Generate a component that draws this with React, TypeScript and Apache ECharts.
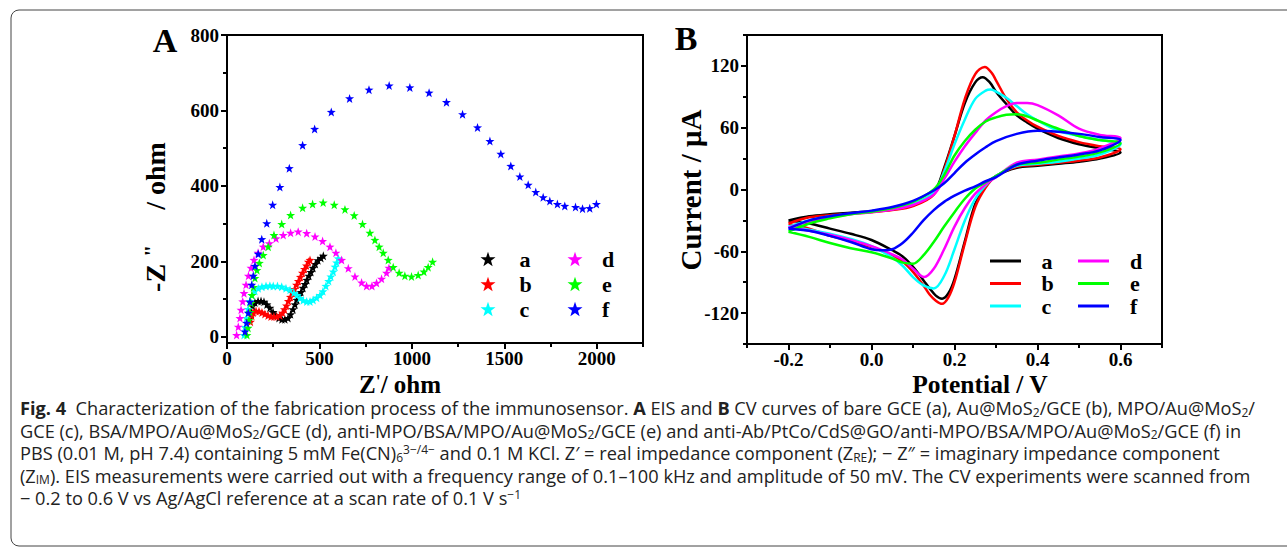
import React, { useEffect, useRef } from 'react';
import * as echarts from 'echarts';

// ---------- Panel A (EIS) ----------
const EIS_X_TICKS = [0, 500, 1000, 1500, 2000];
const EIS_X_MINOR = [250, 750, 1250, 1750, 2250];
const EIS_Y_TICKS = [0, 200, 400, 600, 800];
const EIS_Y_MINOR = [100, 300, 500, 700];
const EIS_NAMES = ['a', 'b', 'c', 'd', 'e', 'f'];

const EIS_A = [[124,50],[130,66],[138,82],[151,91],[168,95],[184,95],[200,93],[216,86],[232,77],[249,66],[265,57],[281,50],[297,47],[313,47],[330,50],[344,60],[357,73],[368,86],[378,98],[389,109],[400,119],[411,130],[422,140],[432,151],[443,162],[454,172],[465,183],[478,193],[492,203],[508,209],[521,215]];
const EIS_B = [[127,40],[134,56],[142,65],[157,69],[173,68],[189,65],[205,61],[222,57],[238,54],[254,54],[270,54],[286,57],[300,64],[311,73],[322,83],[332,95],[343,106],[354,117],[365,127],[376,138],[386,148],[397,159],[408,170],[419,180],[430,189],[440,199],[449,204]];
const EIS_C = [[92,5],[97,26],[105,50],[114,74],[124,95],[135,111],[151,122],[169,129],[189,133],[211,135],[232,136],[250,135],[273,135],[296,133],[319,129],[341,125],[362,117],[378,111],[395,103],[412,97],[431,94],[449,94],[466,98],[485,104],[503,111],[519,121],[535,135],[550,148],[562,160],[575,173],[584,186],[593,197],[602,208]];
const EIS_D = [[52,5],[61,27],[70,50],[76,72],[85,94],[92,116],[103,138],[116,162],[130,183],[146,204],[168,223],[196,239],[229,248],[265,261],[304,270],[344,276],[385,279],[431,275],[476,266],[517,254],[557,239],[589,223],[620,204],[656,182],[692,160],[728,144],[755,135],[784,135],[809,143],[836,154],[863,170],[876,183]];
const EIS_E = [[108,5],[114,24],[119,45],[124,66],[130,90],[135,111],[143,132],[151,156],[162,177],[175,196],[196,217],[223,239],[254,270],[296,299],[344,323],[409,342],[463,352],[520,356],[580,350],[638,338],[688,322],[733,299],[773,276],[800,257],[823,239],[845,223],[872,204],[899,185],[931,170],[962,162],[998,160],[1034,164],[1065,173],[1088,185],[1112,199]];
const EIS_F = [[97,14],[106,37],[115,64],[124,93],[134,138],[142,162],[151,188],[169,220],[188,259],[215,301],[247,350],[286,397],[337,447],[409,508],[474,551],[564,596],[663,632],[768,655],[877,666],[989,661],[1093,647],[1187,622],[1274,590],[1355,555],[1422,519],[1481,485],[1535,453],[1584,425],[1629,403],[1670,384],[1710,370],[1746,360],[1787,352],[1827,347],[1885,344],[1923,340],[1962,341],[1998,352]];

// ---------- Panel B (CV) ----------
const CV_X_TICKS = [-0.2, 0, 0.2, 0.4, 0.6];
const CV_X_MINOR = [-0.3, -0.1, 0.1, 0.3, 0.5, 0.7];
const CV_Y_TICKS = [-120, -60, 0, 60, 120];
const CV_Y_MINOR = [-150, -90, -30, 30, 90, 150];
const CV_NAMES = ['a', 'b', 'c', 'd', 'e', 'f'];

const CV_A = [[-0.2,-30],[-0.15,-26],[-0.1,-24],[-0.05,-22.5],[0,-21],[0.05,-19],[0.1,-15],[0.15,-3],[0.175,21],[0.2,52],[0.225,84],[0.25,104],[0.268,109],[0.285,104],[0.3,95],[0.325,83],[0.35,72],[0.375,65],[0.4,59],[0.45,50],[0.5,44],[0.55,40],[0.6,36],
  [0.55,30],[0.5,27],[0.45,25],[0.4,23],[0.35,21],[0.3,13],[0.275,3],[0.25,-14],[0.225,-50],[0.2,-87],[0.185,-101],[0.17,-106],[0.155,-103],[0.14,-96],[0.125,-88],[0.1,-75],[0.075,-65],[0.05,-59],[0,-49],[-0.05,-43],[-0.1,-38],[-0.15,-33],[-0.2,-30]];
const CV_B = [[-0.2,-33],[-0.15,-27],[-0.1,-25],[-0.05,-23.5],[0,-22],[0.05,-20],[0.1,-16],[0.15,-5],[0.175,19],[0.2,52],[0.225,88],[0.25,112],[0.273,119],[0.29,113],[0.3,106],[0.325,88],[0.35,75],[0.375,67],[0.4,61],[0.45,52],[0.5,46],[0.55,42],[0.6,39],
  [0.55,31],[0.5,28],[0.45,26],[0.4,24],[0.35,22],[0.3,13],[0.275,2],[0.25,-17],[0.225,-52],[0.2,-90],[0.185,-105],[0.17,-111],[0.155,-108],[0.14,-102],[0.125,-93],[0.1,-80],[0.075,-70],[0.05,-64],[0,-56],[-0.05,-50],[-0.1,-45],[-0.15,-38],[-0.2,-33]];
const CV_C = [[-0.2,-36],[-0.15,-30],[-0.1,-26],[-0.05,-23.5],[0,-21.5],[0.05,-19],[0.1,-14],[0.15,-3],[0.175,17],[0.2,44],[0.225,68],[0.25,88],[0.275,96],[0.287,97],[0.3,95],[0.325,89],[0.35,81],[0.375,73],[0.4,67],[0.45,57],[0.5,52],[0.55,48],[0.6,44],
  [0.55,34],[0.5,30],[0.45,27],[0.4,25],[0.35,23],[0.3,13],[0.275,4],[0.25,-9],[0.225,-30],[0.2,-58],[0.175,-84],[0.15,-96],[0.125,-93],[0.1,-85],[0.075,-74],[0.05,-66],[0,-55],[-0.05,-48],[-0.1,-43],[-0.15,-39],[-0.2,-36]];
const CV_D = [[-0.2,-37],[-0.15,-31],[-0.1,-27],[-0.05,-24],[0,-22],[0.05,-19.5],[0.1,-15],[0.15,-5],[0.175,10],[0.2,27],[0.225,42],[0.25,55],[0.275,67],[0.3,75],[0.325,81],[0.35,84],[0.375,84],[0.4,82],[0.45,72],[0.5,59],[0.55,53],[0.6,50],
  [0.55,40],[0.5,35],[0.45,32],[0.4,29],[0.35,26],[0.3,12],[0.275,5],[0.25,-4],[0.225,-18],[0.2,-36],[0.175,-58],[0.15,-77],[0.127,-85],[0.1,-77],[0.075,-68],[0.05,-63],[0,-55],[-0.05,-49],[-0.1,-44],[-0.15,-40],[-0.2,-37]];
const CV_E = [[-0.2,-41],[-0.15,-33],[-0.1,-28],[-0.05,-24],[0,-21.5],[0.05,-18],[0.1,-12],[0.15,0],[0.175,14],[0.2,33],[0.225,47],[0.25,58],[0.275,66],[0.3,70],[0.325,72.5],[0.35,73],[0.375,71],[0.4,67],[0.45,59],[0.5,52],[0.55,48],[0.6,45],
  [0.55,36],[0.5,32],[0.45,29],[0.4,26],[0.35,24],[0.3,13],[0.275,7],[0.25,1],[0.225,-9],[0.2,-22],[0.175,-36],[0.15,-51],[0.125,-64],[0.1,-72],[0.075,-71],[0.05,-67],[0,-61],[-0.05,-57],[-0.1,-52],[-0.15,-46],[-0.2,-41]];
const CV_F = [[-0.2,-38],[-0.15,-30],[-0.1,-26],[-0.05,-23],[0,-20.5],[0.05,-17],[0.1,-11],[0.15,-1],[0.175,6],[0.2,16],[0.225,26],[0.25,34],[0.275,41],[0.3,47],[0.35,54],[0.4,57],[0.45,56],[0.5,54],[0.55,51],[0.6,48],
  [0.55,38],[0.5,34],[0.45,31],[0.4,28],[0.35,24],[0.3,12],[0.275,8],[0.25,3],[0.225,-1],[0.2,-6],[0.175,-12],[0.15,-20],[0.125,-30],[0.1,-42],[0.075,-52],[0.05,-58],[0.025,-59],[0,-58],[-0.05,-51],[-0.1,-45],[-0.15,-40],[-0.2,-38]];

const COLORS = ['#000000', '#ff0000', '#00ffff', '#ff00ff', '#00ff00', '#0000ff'];

const CAPTION = [
  '{b|Fig. 4}  Characterization of the fabrication process of the immunosensor. {b|A} EIS and {b|B} CV curves of bare GCE (a), Au@MoS{sub|2}/GCE (b), MPO/Au@MoS{sub|2}/',
  'GCE (c), BSA/MPO/Au@MoS{sub|2}/GCE (d), anti-MPO/BSA/MPO/Au@MoS{sub|2}/GCE (e) and anti-Ab/PtCo/CdS@GO/anti-MPO/BSA/MPO/Au@MoS{sub|2}/GCE (f) in',
  'PBS (0.01 M, pH 7.4) containing 5 mM Fe(CN){sub|6}{sup|3−/4−} and 0.1 M KCl. Z′ = real impedance component (Z{sub|RE}); − Z″ = imaginary impedance component',
  '(Z{sub|IM}). EIS measurements were carried out with a frequency range of 0.1–100 kHz and amplitude of 50 mV. The CV experiments were scanned from',
  '− 0.2 to 0.6 V vs Ag/AgCl reference at a scan rate of 0.1 V s{sup|−1}',
];

const SERIF = '"Liberation Serif", "Times New Roman", serif';
const SANS = '"Open Sans", "Noto Sans", sans-serif';
const STAR = 'path://M0,-10 L2.35,-3.24 L9.51,-3.09 L3.8,1.24 L5.88,8.09 L0,4 L-5.88,8.09 L-3.8,1.24 L-9.51,-3.09 L-2.35,-3.24 Z';
const CAP_SIZE = 18.2;

const tickFont = { fontFamily: SERIF, fontWeight: 'bold', fontSize: 19, color: '#000' };

function majorAxis(gridIndex: number, pos: string, min: number, max: number, ticks: number[], fmt: (v: number) => string) {
  return {
    type: 'value', gridIndex, position: pos, min, max,
    axisLine: { show: true, onZero: false, lineStyle: { color: '#000', width: 2 } },
    axisTick: { show: true, customValues: ticks, length: 6, lineStyle: { color: '#000', width: 2 } },
    axisLabel: { show: true, customValues: ticks, formatter: fmt, margin: pos === 'bottom' ? 6 : 8, lineHeight: 18, ...tickFont },
    splitLine: { show: false },
  };
}
function minorAxis(gridIndex: number, pos: string, min: number, max: number, ticks: number[]) {
  return {
    type: 'value', gridIndex, position: pos, min, max,
    axisLine: { show: false, onZero: false },
    axisTick: { show: true, customValues: ticks, length: 4, lineStyle: { color: '#000', width: 2 } },
    axisLabel: { show: false },
    splitLine: { show: false },
  };
}

const legendText = (pad: number) => ({ fontFamily: SERIF, fontWeight: 'bold', fontSize: 22, color: '#000', padding: [0, 0, 0, pad] });

export default function App() {
  const ref = useRef<HTMLDivElement>(null);
  useEffect(() => {
    if (!ref.current) return;
    const chart = echarts.init(ref.current, null, { renderer: 'svg' });
    const eisData = [EIS_A, EIS_B, EIS_C, EIS_D, EIS_E, EIS_F];
    const cvData = [CV_A, CV_B, CV_C, CV_D, CV_E, CV_F];
    const capRich = {
      b: { fontFamily: SANS, fontWeight: 'bold', fontSize: CAP_SIZE, lineHeight: 20, fill: '#222' },
      sub: { fontFamily: SANS, fontSize: 12, lineHeight: 11, verticalAlign: 'bottom', fill: '#222' },
      sup: { fontFamily: SANS, fontSize: 12, lineHeight: 11, verticalAlign: 'top', fill: '#222' },
    };
    const option: any = {
      animation: false,
      grid: [
        { left: 227, top: 35, width: 416, height: 308, show: true, borderColor: '#000', borderWidth: 2 },
        { left: 747, top: 35, width: 415, height: 309, show: true, borderColor: '#000', borderWidth: 2 },
      ],
      xAxis: [
        majorAxis(0, 'bottom', 0, 2250, EIS_X_TICKS, (v: number) => String(v)),
        minorAxis(0, 'bottom', 0, 2250, EIS_X_MINOR),
        majorAxis(1, 'bottom', -0.3, 0.7, CV_X_TICKS, (v: number) => v.toFixed(1)),
        minorAxis(1, 'bottom', -0.3, 0.7, CV_X_MINOR),
      ],
      yAxis: [
        majorAxis(0, 'left', -16, 800, EIS_Y_TICKS, (v: number) => String(v)),
        minorAxis(0, 'left', -16, 800, EIS_Y_MINOR),
        majorAxis(1, 'left', -150, 150, CV_Y_TICKS, (v: number) => String(v)),
        minorAxis(1, 'left', -150, 150, CV_Y_MINOR),
      ],
      legend: [
        { data: EIS_NAMES.slice(0, 3), left: 475.5, top: 243, orient: 'vertical', itemWidth: 15, itemHeight: 15, itemGap: 3, selectedMode: false, textStyle: legendText(19) },
        { data: EIS_NAMES.slice(3), left: 562.5, top: 243, orient: 'vertical', itemWidth: 15, itemHeight: 15, itemGap: 3, selectedMode: false, textStyle: legendText(14.5) },
        { data: CV_NAMES.slice(0, 3).map((n) => 'B' + n), formatter: (n: string) => n.slice(1), left: 985, top: 245, orient: 'vertical',
          icon: 'rect', itemWidth: 31, itemHeight: 3, itemGap: 0.5, selectedMode: false, textStyle: legendText(15.5) },
        { data: CV_NAMES.slice(3).map((n) => 'B' + n), formatter: (n: string) => n.slice(1), left: 1073, top: 245, orient: 'vertical',
          icon: 'rect', itemWidth: 31, itemHeight: 3, itemGap: 0.5, selectedMode: false, textStyle: legendText(16) },
      ],
      series: [
        ...eisData.map((d, i) => ({
          type: 'scatter', name: EIS_NAMES[i], xAxisIndex: 0, yAxisIndex: 0, data: d,
          symbol: STAR, symbolSize: 9, itemStyle: { color: COLORS[i], opacity: 1 },
        })),
        ...cvData.map((d, i) => ({
          type: 'line', name: 'B' + CV_NAMES[i], xAxisIndex: 2, yAxisIndex: 2, data: d,
          smooth: 0.35, symbol: 'none', lineStyle: { color: COLORS[i], width: 2.5 }, itemStyle: { color: COLORS[i] },
        })),
      ],
      graphic: [
        { type: 'rect', shape: { x: 11, y: 10, width: 1290, height: 536, r: 8 }, style: { fill: 'none', stroke: '#444', lineWidth: 1 } },
        { type: 'text', x: 165, y: 40, style: { text: 'A', fontFamily: SERIF, fontWeight: 'bold', fontSize: 34, fill: '#000', align: 'center', verticalAlign: 'middle' } },
        { type: 'text', x: 686, y: 38, style: { text: 'B', fontFamily: SERIF, fontWeight: 'bold', fontSize: 34, fill: '#000', align: 'center', verticalAlign: 'middle' } },
        { type: 'text', x: 155, y: 217, rotation: Math.PI / 2,
          style: { text: '-Z {s|"}     / ohm', rich: { s: { fontFamily: SERIF, fontWeight: 'bold', fontSize: 22, verticalAlign: 'top', lineHeight: 14 } },
            fontFamily: SERIF, fontWeight: 'bold', fontSize: 28, lineHeight: 30, fill: '#000', align: 'center', verticalAlign: 'middle' } },
        { type: 'text', x: 400, y: 384,
          style: { text: 'Z{s|\'}/ ohm', rich: { s: { fontFamily: SERIF, fontWeight: 'bold', fontSize: 18, verticalAlign: 'top', lineHeight: 12 } },
            fontFamily: SERIF, fontWeight: 'bold', fontSize: 25, lineHeight: 22, fill: '#000', align: 'center', verticalAlign: 'middle' } },
        { type: 'text', x: 691, y: 190, rotation: Math.PI / 2,
          style: { text: 'Current / μA', fontFamily: SERIF, fontWeight: 'bold', fontSize: 29, fill: '#000', align: 'center', verticalAlign: 'middle' } },
        { type: 'text', x: 980, y: 384,
          style: { text: 'Potential / V', fontFamily: SERIF, fontWeight: 'bold', fontSize: 25.5, lineHeight: 22, fill: '#000', align: 'center', verticalAlign: 'middle' } },
        ...CAPTION.map((t, i) => ({
          type: 'text', x: 20, y: 408 + i * 22.5,
          style: { text: t, rich: capRich, fontFamily: SANS, fontSize: CAP_SIZE, lineHeight: 20, fill: '#222', align: 'left', verticalAlign: 'middle' },
        })),
      ],
    };
    chart.setOption(option);
    return () => chart.dispose();
  }, []);
  return <div ref={ref} style={{ position: 'absolute', left: 0, top: 0, width: 1287, height: 550, background: '#fff' }} />;
}
